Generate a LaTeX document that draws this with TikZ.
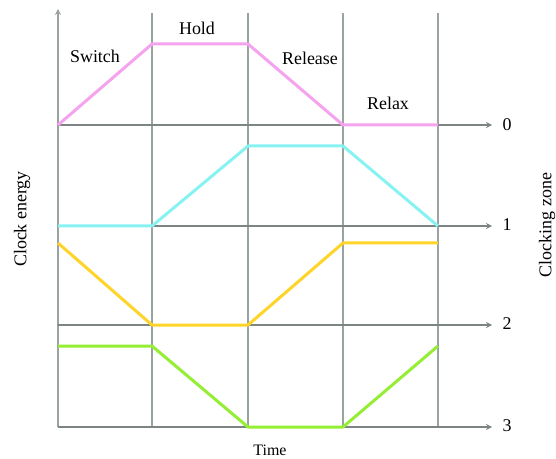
\documentclass[tikz,border=0pt]{standalone}
\usepackage{fontspec}
\setmainfont{Liberation Serif}
\usetikzlibrary{arrows.meta}
\definecolor{gridv}{HTML}{9AA2A2}
\definecolor{gridh}{HTML}{7C8484}
\definecolor{cpink}{HTML}{F5A3EE}
\definecolor{ccyan}{HTML}{86F2F2}
\definecolor{cyellow}{HTML}{FFD428}
\definecolor{cgreen}{HTML}{94EE34}
\tikzset{
  vline/.style={draw=gridv, line width=1.8bp},
  hline/.style={draw=gridh, line width=1.8bp, -{Stealth[length=6bp,width=6bp]}},
  curve/.style={line width=3bp, line join=round},
  lbl/.style={font=\fontsize{18}{20}\selectfont, inner sep=0pt},
}
\begin{document}
\begin{tikzpicture}[x=1bp,y=-1bp]
\useasboundingbox (0,0) rectangle (556,459);
% grid coordinates
\foreach \n/\x in {a/58,b/152,c/248,d/343,e/438}{
  \coordinate (\n-top) at (\x,13);
  \coordinate (\n-bot) at (\x,427);
}
\foreach \k/\y in {0/125,1/226,2/325,3/427}{
  \coordinate (h\k-s) at (58,\y);
  \coordinate (h\k-e) at (492,\y);
}
\coordinate (axis-tip) at (58,9);
% vertical lines
\draw[vline] (b-bot) -- (b-top);
\draw[vline] (c-bot) -- (c-top);
\draw[vline] (d-bot) -- (d-top);
\draw[vline] (e-bot) -- (e-top);
\draw[vline, -{Stealth[length=6bp,width=6bp]}] (a-bot) -- (axis-tip);
% horizontal lines
\foreach \k in {0,1,2,3}{
  \draw[hline] (h\k-s) -- (h\k-e);
}
\node[lbl] (n0) at (507,125) {0};
\node[lbl] (n1) at (507,225) {1};
\node[lbl] (n2) at (507,324) {2};
\node[lbl] (n3) at (507,426) {3};
% curves
\draw[curve, cpink] (58,125) -- (152,44) -- (248,44) -- (343,125) -- (438,125);
\draw[curve, ccyan] (58,226) -- (152,226) -- (248,146) -- (343,146) -- (438,226);
\draw[curve, cyellow] (58,243) -- (152,325) -- (248,325) -- (343,243) -- (438,243);
\draw[curve, cgreen] (58,346) -- (152,346) -- (248,427) -- (343,427) -- (438,346);
% labels
\node[lbl] (sw) at (95,56) {Switch};
\node[lbl] (ho) at (197,28) {Hold};
\node[lbl] (re) at (310,58) {Release};
\node[lbl] (rx) at (388,103) {Relax};
\node[lbl, font=\fontsize{16}{18}\selectfont] (ti) at (270,450) {Time};
\node[lbl, rotate=90] (ce) at (22,219) {Clock energy};
\node[lbl, rotate=90] (cz) at (547,225) {Clocking zone};
\end{tikzpicture}
\end{document}
